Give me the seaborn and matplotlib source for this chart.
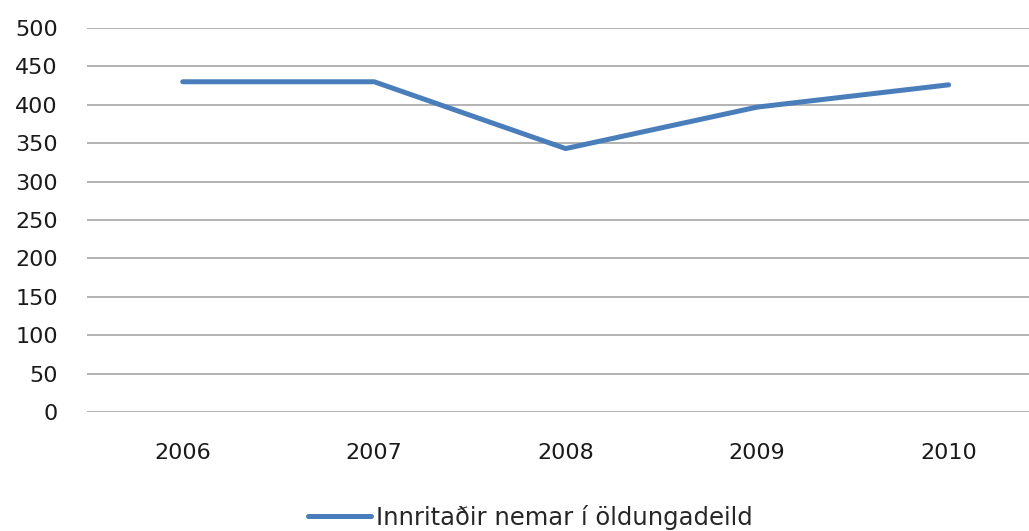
import pandas as pd
import matplotlib
matplotlib.use("Agg")
import matplotlib.pyplot as plt
import seaborn as sns

# Gögn
ar = ['2006', '2007', '2008', '2009', '2010']
nemar = [430, 430, 343, 397, 426]
heiti = 'Innritaðir nemar í öldungadeild'

df = pd.DataFrame({'ar': ar, 'nemar': nemar})

sns.set_style('white')
plt.rcParams['font.family'] = ['DejaVu Sans']

fig = plt.figure(figsize=(10.29, 5.31), dpi=100)
ax = fig.add_axes([87 / 1029, 1 - 412 / 531, 1 - 87 / 1029, (412 - 28) / 531])

sns.lineplot(data=df, x='ar', y='nemar', ax=ax, color='#4a7ebb', linewidth=3.6,
             label=heiti, sort=False, solid_capstyle='round')

ax.set_ylim(0, 500)
ax.set_yticks(range(0, 501, 50))
ax.set_xlim(-0.5, 4.42)
ax.grid(axis='y', color='#a6a6a6', linewidth=1.2)
ax.set_axisbelow(True)
for s in ax.spines.values():
    s.set_visible(False)
ax.tick_params(axis='both', length=0, labelsize=16, colors='#1a1a1a')
ax.tick_params(axis='y', pad=21)
ax.tick_params(axis='x', pad=22)
ax.set_xlabel('')
ax.set_ylabel('')

ax.get_legend().remove()
h, l = ax.get_legend_handles_labels()
fig.legend(h, l, loc='center', bbox_to_anchor=(530 / 1029, 1 - 517 / 531), frameon=False,
           fontsize=17.5, handlelength=2.6, handletextpad=0.2, borderpad=0)

fig.savefig('out.png', dpi=100)
